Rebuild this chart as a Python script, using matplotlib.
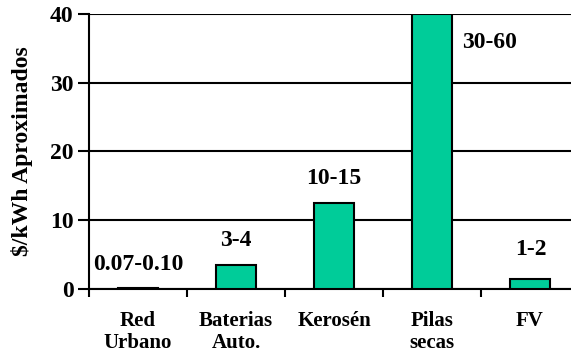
import matplotlib.pyplot as plt
import numpy as np

# categories and approximate cost values ($/kWh)
categories = ["Red\nUrbano", "Baterias\nAuto.", "Kerosén", "Pilas\nsecas", "FV"]
values = [0.085, 3.5, 12.5, 40, 1.5]
range_labels = ["0.07-0.10", "3-4", "10-15", "30-60", "1-2"]

plt.rcParams['font.family'] = ['Liberation Serif', 'DejaVu Serif']
plt.rcParams['font.weight'] = 'bold'

fig = plt.figure(figsize=(5.71, 3.58), dpi=100)
# right edge of the plot runs past the picture, as in the original
ax = fig.add_axes([89 / 571, 1 - 289 / 358, 490 / 571, 275 / 358])

x = np.arange(len(categories))
ax.bar(x, values, width=0.41, color='#00CC99', edgecolor='black', linewidth=1.5, zorder=3)

ax.set_xlim(-0.5, 4.5)
ax.set_ylim(0, 40)
ax.set_yticks([0, 10, 20, 30, 40])
ax.yaxis.grid(True, color='black', linewidth=1.5, zorder=0)
ax.set_axisbelow(True)

ax.set_xticks(x)
ax.set_xticklabels(categories, fontsize=15, fontweight='bold', linespacing=1.15)
ax.set_xticks(np.arange(-0.5, 5, 1), minor=True)
ax.tick_params(axis='x', which='major', length=0, pad=16)
ax.tick_params(axis='x', which='minor', length=6, width=1.5, direction='out')
ax.tick_params(axis='y', length=8, width=1.5, labelsize=17, pad=3)
for lab in ax.get_yticklabels():
    lab.set_fontweight('bold')

for s in ['top', 'right']:
    ax.spines[s].set_visible(False)
for s in ['left', 'bottom']:
    ax.spines[s].set_linewidth(1.5)

ax.set_ylabel("$/kWh Aproximados", fontsize=17, fontweight='bold')
ax.yaxis.set_label_coords(-0.115, 0.5)

# range labels above / beside bars
label_pos = [(0, 3.5), (1, 7.1), (2, 16.1), (3.59, 35.8), (4.01, 5.7)]
for (lx, ly), txt in zip(label_pos, range_labels):
    ax.text(lx, ly, txt, ha='center', va='center', fontsize=17, fontweight='bold')

fig.savefig("out.png", dpi=100)
